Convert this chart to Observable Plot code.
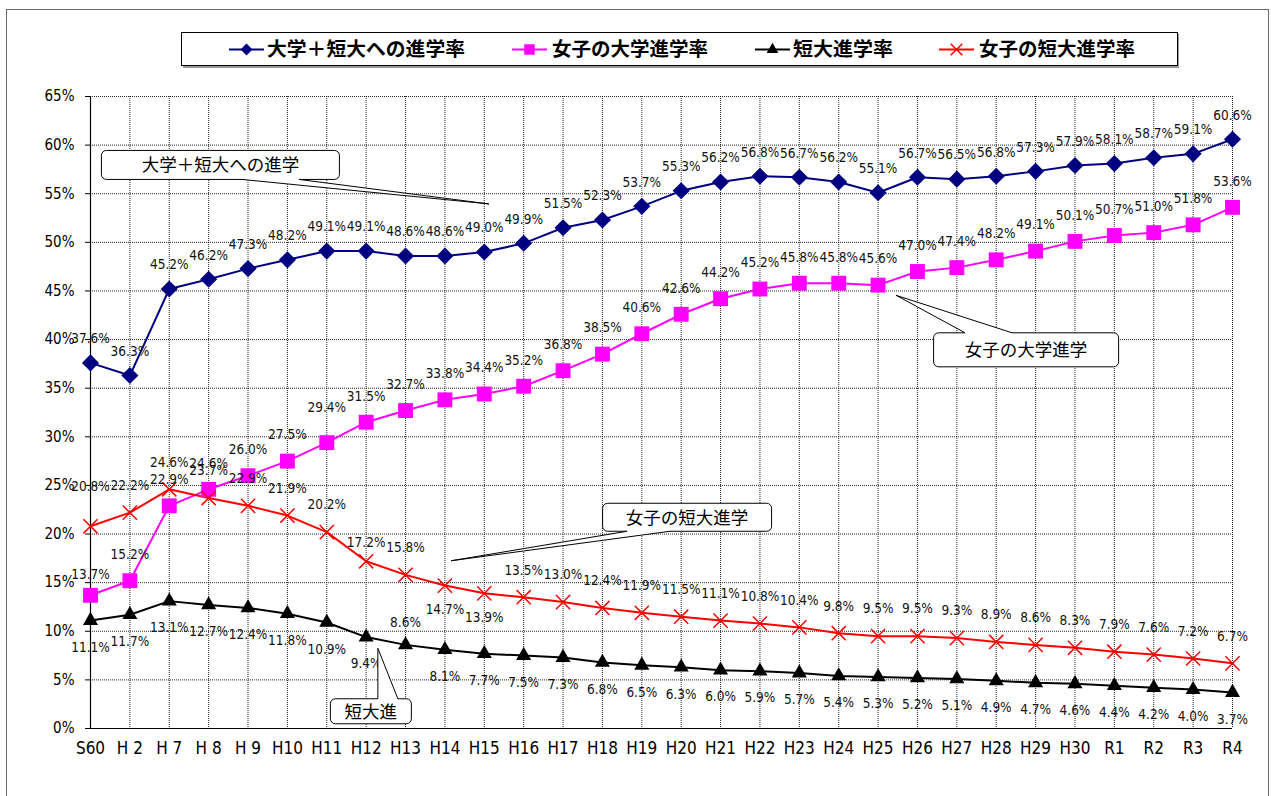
<!DOCTYPE html>
<html><head><meta charset="utf-8">
<script src="https://cdn.jsdelivr.net/npm/d3@7"></script>
<script src="https://cdn.jsdelivr.net/npm/@observablehq/plot@0.6"></script>
<style>
html,body{margin:0;padding:0;background:#fff;}
#wrap{position:relative;width:1271px;height:796px;overflow:hidden;background:#fff;}
#frame{position:absolute;left:6px;top:9px;width:1263px;height:800px;border:1.5px solid #6b6b6b;box-sizing:border-box;}
#wrap svg{position:absolute;left:0;top:0;}
</style></head><body><div id="wrap"><div id="frame"></div></div>
<script>
// ---- data ----
const categories = ["S60","H 2","H 7","H 8","H 9","H10","H11","H12","H13","H14","H15","H16","H17","H18","H19","H20","H21","H22","H23","H24","H25","H26","H27","H28","H29","H30","R1","R2","R3","R4"];
const totalRate   = [37.6,36.3,45.2,46.2,47.3,48.2,49.1,49.1,48.6,48.6,49.0,49.9,51.5,52.3,53.7,55.3,56.2,56.8,56.7,56.2,55.1,56.7,56.5,56.8,57.3,57.9,58.1,58.7,59.1,60.6];
const womenUniv   = [13.7,15.2,22.9,24.6,26.0,27.5,29.4,31.5,32.7,33.8,34.4,35.2,36.8,38.5,40.6,42.6,44.2,45.2,45.8,45.8,45.6,47.0,47.4,48.2,49.1,50.1,50.7,51.0,51.8,53.6];
const juniorRate  = [11.1,11.7,13.1,12.7,12.4,11.8,10.9,9.4,8.6,8.1,7.7,7.5,7.3,6.8,6.5,6.3,6.0,5.9,5.7,5.4,5.3,5.2,5.1,4.9,4.7,4.6,4.4,4.2,4.0,3.7];
const womenJunior = [20.8,22.2,24.6,23.7,22.9,21.9,20.2,17.2,15.8,14.7,13.9,13.5,13.0,12.4,11.9,11.5,11.1,10.8,10.4,9.8,9.5,9.5,9.3,8.9,8.6,8.3,7.9,7.6,7.2,6.7];
const seriesNames = ["大学＋短大への進学率","女子の大学進学率","短大進学率","女子の短大進学率"];
const calloutTexts = ["大学＋短大への進学","女子の大学進学","女子の短大進学","短大進"];
const yTicks = d3.range(0, 70, 5);

// ---- styling ----
const numFont = "'DejaVu Sans Condensed','Liberation Sans',sans-serif";
const jpFont = "'Noto Sans CJK JP','Noto Sans CJK SC',sans-serif";
const seriesValues = [totalRate, womenUniv, juniorRate, womenJunior];
const seriesStyle = [
  {color:"#000080", symbol:"diamond2", r:7.7, filled:true},
  {color:"#ff00ff", symbol:"square", r:8.4, filled:true},
  {color:"#000000", symbol:"triangle", r:5.6, filled:true},
  {color:"#ff0000", symbol:"times", r:6.5, filled:false}
];
function labelDy(s, cat) {
  if (s === 0) return -24;
  if (s === 1) return cat === "H11" ? -35 : cat === "S60" ? -21 : -26;
  if (s === 2) return cat === "H13" ? -22 : 27;
  if (cat === "S60") return -40;
  if (cat === "H14" || cat === "H15") return 24;
  if (cat === "H12") return -19;
  return -27;
}

const rows = [];
seriesValues.forEach((vals, s) => vals.forEach((v, i) => rows.push({s, i, cat: categories[i], v, dy: labelDy(s, categories[i])})));

const marks = [
  Plot.gridY(yTicks.filter(d => d > 0), {stroke:"#000", strokeOpacity:0.85, strokeDasharray:"1,1"}),
  Plot.gridX(d3.range(1, categories.length), {stroke:"#000", strokeOpacity:0.85, strokeDasharray:"1,1"}),
  Plot.ruleX([0], {stroke:"#000", strokeWidth:1.2}),
  Plot.ruleY([0], {stroke:"#000", strokeWidth:1.2}),
  Plot.axisY(yTicks, {tickFormat: d => d + "%", tickSize:5, tickPadding:11, fontSize:15, fontFamily:numFont, fill:"#000", label:null}),
  Plot.axisX(d3.range(0, categories.length), {tickFormat: i => categories[i], tickSize:0, tickPadding:13, fontSize:17, fontFamily:numFont, fill:"#000", label:null})
];
seriesStyle.forEach((st, s) => {
  const data = rows.filter(d => d.s === s);
  marks.push(Plot.line(data, {x:"i", y:"v", stroke:st.color, strokeWidth:2}));
});
seriesStyle.forEach((st, s) => {
  const data = rows.filter(d => d.s === s);
  marks.push(Plot.dot(data, st.filled
    ? {x:"i", y:"v", symbol:st.symbol, r:st.r, fill:st.color, stroke:"none"}
    : {x:"i", y:"v", symbol:st.symbol, r:st.r, stroke:st.color, strokeWidth:1.5, fill:"none"}));
});
const dyGroups = d3.group(rows, d => d.dy);
for (const [dy, data] of dyGroups) {
  marks.push(Plot.text(data, {x:"i", y:"v", text: d => d.v.toFixed(1) + "%", dy, fontSize:13.5, fontFamily:numFont, fill:"#111"}));
}

const plot = Plot.plot({
  width:1271, height:796,
  marginLeft:90, marginRight:39, marginTop:96, marginBottom:68,
  x:{type:"linear", domain:[0, categories.length - 1], axis:null, label:null},
  y:{domain:[0, 65], axis:null, label:null},
  style:{background:"transparent", overflow:"visible", fontFamily:numFont},
  marks
});
document.getElementById("wrap").appendChild(plot);

const svg = d3.select(plot);
const xs = plot.scale("x"), ys = plot.scale("y");

// ---- legend ----
const lg = svg.append("g").attr("text-anchor", "start");
lg.append("rect").attr("x", 183).attr("y", 34).attr("width", 996).attr("height", 34).attr("fill", "#999");
lg.append("rect").attr("x", 181.5).attr("y", 32.5).attr("width", 996).attr("height", 33).attr("fill", "#fff").attr("stroke", "#000").attr("stroke-width", 1);
const legendPos = [{lx:229, tx:267, tw:198}, {lx:512, tx:552, tw:156}, {lx:755, tx:793, tw:100}, {lx:939, tx:979, tw:156}];
const symbolTypes = [d3.symbolDiamond2, d3.symbolSquare, d3.symbolTriangle, d3.symbolTimes];
const symbolSizes = [90, 110, 60, 90];
seriesNames.forEach((name, s) => {
  const p = legendPos[s], st = seriesStyle[s], cy = 49.5;
  lg.append("line").attr("x1", p.lx).attr("x2", p.lx + 35).attr("y1", cy).attr("y2", cy).attr("stroke", st.color).attr("stroke-width", 2);
  const sym = lg.append("path").attr("d", d3.symbol().type(symbolTypes[s]).size(symbolSizes[s])()).attr("transform", `translate(${p.lx + 17.5},${cy})`);
  if (st.filled) sym.attr("fill", st.color); else sym.attr("fill", "none").attr("stroke", st.color).attr("stroke-width", 1.5);
  lg.append("text").attr("x", p.tx).attr("y", cy).attr("dy", "0.36em").attr("text-anchor", "start").attr("font-family", jpFont).attr("font-weight", "bold")
    .attr("font-size", 19).attr("textLength", p.tw).attr("lengthAdjust", "spacingAndGlyphs").attr("fill", "#000").text(name);
});

// ---- callouts ----
const callouts = [
  {tip:[10.13, 53.9], box:[-388, -54, 238, 29], base:[-247, -190], side:"bottom"},
  {tip:[20.47, 44.5], box:[37, 37, 185, 34], base:[69, 116], side:"top"},
  {tip:[9.17, 17.2], box:[151, -58, 169, 28], base:[176, 219], side:"bottom"},
  {tip:[7.31, 8.2], box:[-48, 50, 81, 25], base:[0, 20], side:"top"}
];
const cg = svg.append("g");
callouts.forEach((c, k) => {
  const tx = xs.apply(c.tip[0]), ty = ys.apply(c.tip[1]);
  const [bx, by, w, h] = c.box;
  const x0 = tx + bx, y0 = ty + by;
  cg.append("rect").attr("x", x0 + 0.5).attr("y", y0 + 0.5).attr("width", w).attr("height", h).attr("rx", 5)
    .attr("fill", "#fff").attr("stroke", "#000").attr("stroke-width", 1);
  const baseY = c.side === "bottom" ? y0 + h + 0.5 : y0 + 0.5;
  const inner = c.side === "bottom" ? baseY - 1.5 : baseY + 1.5;
  const b1 = tx + c.base[0], b2 = tx + c.base[1];
  cg.append("polygon").attr("points", `${b1},${inner} ${b1},${baseY} ${tx},${ty} ${b2},${baseY} ${b2},${inner}`).attr("fill", "#fff");
  cg.append("path").attr("d", `M${b1},${baseY}L${tx},${ty}L${b2},${baseY}`).attr("fill", "none").attr("stroke", "#000").attr("stroke-width", 1);
  cg.append("text").attr("x", x0 + w / 2 + 0.5).attr("y", y0 + h / 2 + 0.5).attr("dy", "0.36em").attr("text-anchor", "middle")
    .attr("font-family", jpFont).attr("font-size", 17.5).attr("fill", "#000").text(calloutTexts[k]);
});
</script></body></html>
